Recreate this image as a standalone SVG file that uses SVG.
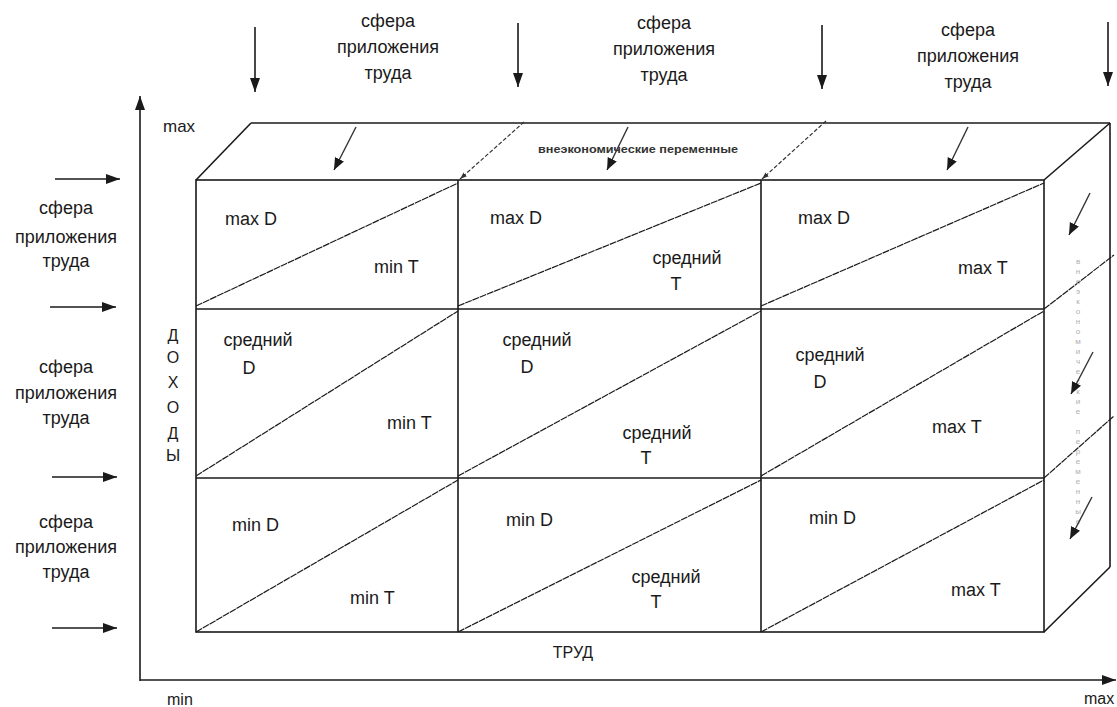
<svg xmlns="http://www.w3.org/2000/svg" width="1117" height="707" viewBox="0 0 1117 707">
<defs>
<style>
text{font-family:"Liberation Sans",Arial,sans-serif;fill:#1a1a1a;}
.lbl{font-size:18px;}
.mid{text-anchor:middle;}
.edge{stroke:#1a1a1a;stroke-width:1.6;fill:none;}
.diag{stroke:#1a1a1a;stroke-width:1.2;fill:none;stroke-dasharray:7 0.8;}
.arr{stroke:#1a1a1a;stroke-width:1.6;fill:none;}
.sarr{stroke:#333;stroke-width:1.4;fill:none;}
.dash{stroke:#333;stroke-width:1.2;fill:none;stroke-dasharray:4 2;}
.faint{font-size:8px;fill:#b0b0b0;}
</style>
<marker id="ah" markerUnits="userSpaceOnUse" markerWidth="16" markerHeight="12" refX="14" refY="6" orient="auto">
<path d="M0,1 L14,6 L0,11 Z" fill="#1a1a1a"/>
</marker>
<marker id="ahs" markerUnits="userSpaceOnUse" markerWidth="14" markerHeight="12" refX="12" refY="6" orient="auto">
<path d="M0,1 L12,6 L0,11 Z" fill="#1a1a1a"/>
</marker>
<marker id="aht" markerUnits="userSpaceOnUse" markerWidth="8" markerHeight="6" refX="7" refY="3" orient="auto">
<path d="M0,0.5 L7,3 L0,5.5 Z" fill="#333"/>
</marker>
</defs>
<rect width="1117" height="707" fill="#ffffff"/>

<g id="axes">
<line class="arr" x1="140" y1="681" x2="140" y2="96" marker-end="url(#ah)"/>
<line class="arr" x1="140" y1="680" x2="1116" y2="680" marker-end="url(#ah)"/>
<text class="lbl" x="163" y="132" style="font-size:17px">max</text>
<text class="lbl" x="167" y="705" style="font-size:16px">min</text>
<text class="lbl" x="1084" y="704" style="font-size:16px">max</text>
<text class="lbl mid" x="573" y="658" style="font-size:16px">ТРУД</text>
<text id="dohody" class="lbl mid" x="173" style="font-size:16px"><tspan x="173" y="341">Д</tspan><tspan x="173" y="363">О</tspan><tspan x="173" y="388">Х</tspan><tspan x="173" y="413">О</tspan><tspan x="173" y="439">Д</tspan><tspan x="173" y="461">Ы</tspan></text>
</g>

<g id="cube">
<rect class="edge" x="196" y="180" width="848" height="452"/>
<line class="edge" x1="196" y1="309" x2="1044" y2="309"/>
<line class="edge" x1="196" y1="478" x2="1044" y2="478"/>
<line class="edge" x1="458" y1="180" x2="458" y2="632"/>
<line class="edge" x1="761" y1="180" x2="761" y2="632"/>
<line class="edge" x1="196" y1="180" x2="251" y2="123"/>
<line class="edge" x1="251" y1="123" x2="1110" y2="123"/>
<line class="edge" x1="1044" y1="180" x2="1110" y2="123"/>
<line class="edge" x1="1110" y1="123" x2="1110" y2="567"/>
<line class="edge" x1="1044" y1="632" x2="1110" y2="567"/>
<line class="diag" x1="1044" y1="309" x2="1114" y2="255"/>
<line class="diag" x1="1044" y1="478" x2="1114" y2="416"/>
<line class="diag" x1="196" y1="306" x2="458" y2="183"/>
<line class="diag" x1="458" y1="306" x2="761" y2="183"/>
<line class="diag" x1="761" y1="306" x2="1044" y2="183"/>
<line class="diag" x1="196" y1="476" x2="458" y2="311"/>
<line class="diag" x1="458" y1="476" x2="761" y2="311"/>
<line class="diag" x1="761" y1="476" x2="1044" y2="311"/>
<line class="diag" x1="196" y1="632" x2="458" y2="480"/>
<line class="diag" x1="458" y1="632" x2="761" y2="480"/>
<line class="diag" x1="761" y1="632" x2="1044" y2="480"/>
<text x="638" y="153" style="font-size:10px;font-weight:bold;fill:#333" text-anchor="middle" textLength="200" lengthAdjust="spacingAndGlyphs">внеэкономические переменные</text>
<text class="faint" text-anchor="middle"><tspan x="1078" y="264">в</tspan><tspan x="1078" y="274">н</tspan><tspan x="1078" y="284">е</tspan><tspan x="1078" y="294">э</tspan><tspan x="1078" y="304">к</tspan><tspan x="1078" y="314">о</tspan><tspan x="1078" y="324">н</tspan><tspan x="1078" y="334">о</tspan><tspan x="1078" y="344">м</tspan><tspan x="1078" y="354">и</tspan><tspan x="1078" y="364">ч</tspan><tspan x="1078" y="374">е</tspan><tspan x="1078" y="384">с</tspan><tspan x="1078" y="394">к</tspan><tspan x="1078" y="404">и</tspan><tspan x="1078" y="414">е</tspan><tspan x="1078" y="434">п</tspan><tspan x="1078" y="444">е</tspan><tspan x="1078" y="454">р</tspan><tspan x="1078" y="464">е</tspan><tspan x="1078" y="474">м</tspan><tspan x="1078" y="484">е</tspan><tspan x="1078" y="494">н</tspan><tspan x="1078" y="504">н</tspan><tspan x="1078" y="514">ы</tspan><tspan x="1078" y="524">е</tspan></text>
</g>

<g id="cell-r1c1"><text class="lbl" x="225" y="225">max D</text><text class="lbl" x="374" y="273">min T</text></g>
<g id="cell-r1c2"><text class="lbl" x="490" y="224">max D</text><text class="lbl mid" x="687" y="264">средний</text><text class="lbl mid" x="676" y="290">T</text></g>
<g id="cell-r1c3"><text class="lbl" x="798" y="224">max D</text><text class="lbl" x="958" y="274">max T</text></g>
<g id="cell-r2c1"><text class="lbl mid" x="258" y="346">средний</text><text class="lbl mid" x="249" y="374">D</text><text class="lbl" x="387" y="429">min T</text></g>
<g id="cell-r2c2"><text class="lbl mid" x="537" y="346">средний</text><text class="lbl mid" x="527" y="373">D</text><text class="lbl mid" x="657" y="439">средний</text><text class="lbl mid" x="646" y="464">T</text></g>
<g id="cell-r2c3"><text class="lbl mid" x="830" y="361">средний</text><text class="lbl mid" x="820" y="388">D</text><text class="lbl" x="932" y="433">max T</text></g>
<g id="cell-r3c1"><text class="lbl" x="232" y="531">min D</text><text class="lbl" x="350" y="604">min T</text></g>
<g id="cell-r3c2"><text class="lbl" x="506" y="526">min D</text><text class="lbl mid" x="666" y="583">средний</text><text class="lbl mid" x="656" y="608">T</text></g>
<g id="cell-r3c3"><text class="lbl" x="809" y="524">min D</text><text class="lbl" x="951" y="596">max T</text></g>

<g id="labels-top">
<text class="lbl mid" x="388" y="27">сфера</text><text class="lbl mid" x="388" y="53">приложения</text><text class="lbl mid" x="388" y="79">труда</text>
<text class="lbl mid" x="664" y="29">сфера</text><text class="lbl mid" x="664" y="55">приложения</text><text class="lbl mid" x="664" y="81">труда</text>
<text class="lbl mid" x="968" y="36">сфера</text><text class="lbl mid" x="968" y="62">приложения</text><text class="lbl mid" x="968" y="88">труда</text>
</g>
<g id="labels-left">
<text class="lbl mid" x="66" y="214">сфера</text><text class="lbl mid" x="66" y="243">приложения</text><text class="lbl mid" x="66" y="267">труда</text>
<text class="lbl mid" x="66" y="373">сфера</text><text class="lbl mid" x="66" y="399">приложения</text><text class="lbl mid" x="66" y="424">труда</text>
<text class="lbl mid" x="66" y="528">сфера</text><text class="lbl mid" x="66" y="553">приложения</text><text class="lbl mid" x="66" y="578">труда</text>
</g>

<g id="connectors">
<line class="arr" x1="255" y1="27" x2="255" y2="92" marker-end="url(#ah)"/>
<line class="arr" x1="518" y1="23" x2="518" y2="87" marker-end="url(#ah)"/>
<line class="arr" x1="822" y1="25" x2="822" y2="89" marker-end="url(#ah)"/>
<line class="arr" x1="1108" y1="22" x2="1108" y2="86" marker-end="url(#ah)"/>
<line class="arr" x1="55" y1="179" x2="120" y2="179" marker-end="url(#ah)"/>
<line class="arr" x1="50" y1="307" x2="116" y2="307" marker-end="url(#ah)"/>
<line class="arr" x1="52" y1="477" x2="117" y2="477" marker-end="url(#ah)"/>
<line class="arr" x1="52" y1="628" x2="117" y2="628" marker-end="url(#ah)"/>
<line class="sarr" x1="356" y1="127" x2="334" y2="170" marker-end="url(#ahs)"/>
<line class="sarr" x1="628" y1="127" x2="607" y2="170" marker-end="url(#ahs)"/>
<line class="sarr" x1="968" y1="127" x2="947" y2="170" marker-end="url(#ahs)"/>
<line class="sarr" x1="1090" y1="193" x2="1069" y2="235" marker-end="url(#ahs)"/>
<line class="sarr" x1="1093" y1="352" x2="1071" y2="394" marker-end="url(#ahs)"/>
<line class="sarr" x1="1092" y1="497" x2="1070" y2="539" marker-end="url(#ahs)"/>
<line class="dash" x1="524" y1="122" x2="460" y2="179" marker-end="url(#aht)"/>
<line class="dash" x1="826" y1="121" x2="762" y2="179" marker-end="url(#aht)"/>
</g>
</svg>
